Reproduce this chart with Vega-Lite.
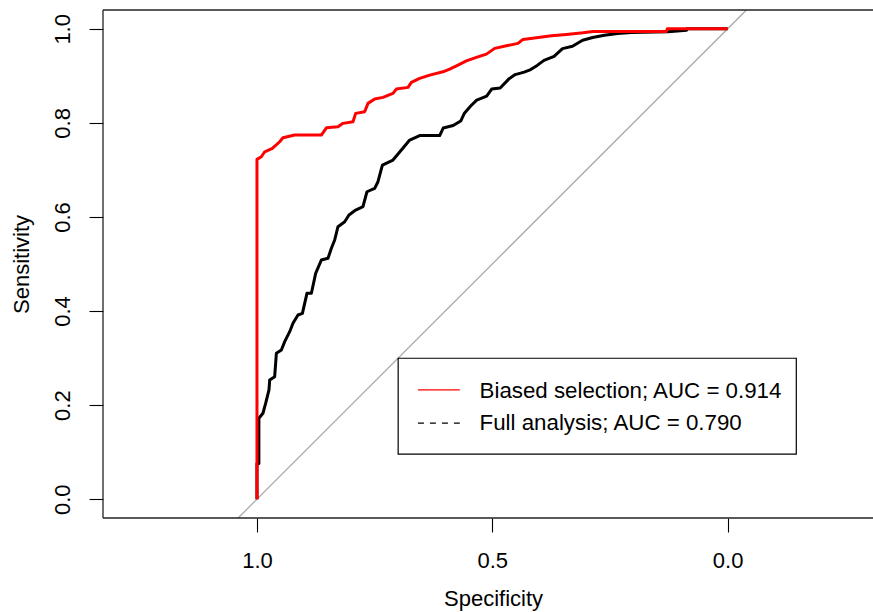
{
  "$schema": "https://vega.github.io/schema/vega-lite/v6.json",
  "width": 770,
  "height": 508,
  "autosize": {"type": "none"},
  "padding": {"left": 103, "top": 10, "right": 0, "bottom": 94},
  "background": "white",
  "data": {"values": [{}]},
  "config": {
    "view": {"stroke": null},
    "font": "Liberation Sans",
    "axis": {
      "domain": false,
      "grid": false,
      "tickSize": 14,
      "tickColor": "black",
      "tickWidth": 1.1,
      "labelFont": "Liberation Sans",
      "labelFontSize": 22,
      "labelColor": "black",
      "titleFont": "Liberation Sans",
      "titleFontSize": 22,
      "titleFontWeight": "normal",
      "titleColor": "black",
      "format": ".1f"
    }
  },
  "datasets": {
    "roc": [
      {"series": "full", "i": 0, "spec": 1.0, "sens": 0.0},
      {"series": "full", "i": 1, "spec": 1.0, "sens": 0.076},
      {"series": "full", "i": 2, "spec": 0.996, "sens": 0.076},
      {"series": "full", "i": 3, "spec": 0.996, "sens": 0.172},
      {"series": "full", "i": 4, "spec": 0.9873, "sens": 0.1827},
      {"series": "full", "i": 5, "spec": 0.9815, "sens": 0.204},
      {"series": "full", "i": 6, "spec": 0.9745, "sens": 0.2323},
      {"series": "full", "i": 7, "spec": 0.973, "sens": 0.2535},
      {"series": "full", "i": 8, "spec": 0.9624, "sens": 0.2605},
      {"series": "full", "i": 9, "spec": 0.9588, "sens": 0.3102},
      {"series": "full", "i": 10, "spec": 0.9482, "sens": 0.3173},
      {"series": "full", "i": 11, "spec": 0.9411, "sens": 0.3349},
      {"series": "full", "i": 12, "spec": 0.9305, "sens": 0.3561},
      {"series": "full", "i": 13, "spec": 0.9235, "sens": 0.374},
      {"series": "full", "i": 14, "spec": 0.9129, "sens": 0.3916},
      {"series": "full", "i": 15, "spec": 0.9035, "sens": 0.3952},
      {"series": "full", "i": 16, "spec": 0.8938, "sens": 0.4377},
      {"series": "full", "i": 17, "spec": 0.8844, "sens": 0.4377},
      {"series": "full", "i": 18, "spec": 0.8753, "sens": 0.4802},
      {"series": "full", "i": 19, "spec": 0.8632, "sens": 0.5085},
      {"series": "full", "i": 20, "spec": 0.8491, "sens": 0.5121},
      {"series": "full", "i": 21, "spec": 0.8419, "sens": 0.5334},
      {"series": "full", "i": 22, "spec": 0.8349, "sens": 0.551},
      {"series": "full", "i": 23, "spec": 0.8279, "sens": 0.5793},
      {"series": "full", "i": 24, "spec": 0.8136, "sens": 0.5899},
      {"series": "full", "i": 25, "spec": 0.8045, "sens": 0.6041},
      {"series": "full", "i": 26, "spec": 0.7903, "sens": 0.6147},
      {"series": "full", "i": 27, "spec": 0.7748, "sens": 0.6218},
      {"series": "full", "i": 28, "spec": 0.7663, "sens": 0.6536},
      {"series": "full", "i": 29, "spec": 0.7499, "sens": 0.6609},
      {"series": "full", "i": 30, "spec": 0.7429, "sens": 0.6749},
      {"series": "full", "i": 31, "spec": 0.7335, "sens": 0.7104},
      {"series": "full", "i": 32, "spec": 0.711, "sens": 0.721},
      {"series": "full", "i": 33, "spec": 0.6932, "sens": 0.7423},
      {"series": "full", "i": 34, "spec": 0.6755, "sens": 0.7635},
      {"series": "full", "i": 35, "spec": 0.6543, "sens": 0.7731},
      {"series": "full", "i": 36, "spec": 0.6118, "sens": 0.7731},
      {"series": "full", "i": 37, "spec": 0.6043, "sens": 0.789},
      {"series": "full", "i": 38, "spec": 0.5831, "sens": 0.7943},
      {"series": "full", "i": 39, "spec": 0.5671, "sens": 0.8039},
      {"series": "full", "i": 40, "spec": 0.5597, "sens": 0.8198},
      {"series": "full", "i": 41, "spec": 0.5459, "sens": 0.8358},
      {"series": "full", "i": 42, "spec": 0.5331, "sens": 0.8485},
      {"series": "full", "i": 43, "spec": 0.5119, "sens": 0.857},
      {"series": "full", "i": 44, "spec": 0.5013, "sens": 0.8719},
      {"series": "full", "i": 45, "spec": 0.4832, "sens": 0.874},
      {"series": "full", "i": 46, "spec": 0.4651, "sens": 0.8931},
      {"series": "full", "i": 47, "spec": 0.4513, "sens": 0.9027},
      {"series": "full", "i": 48, "spec": 0.4322, "sens": 0.908},
      {"series": "full", "i": 49, "spec": 0.4184, "sens": 0.9133},
      {"series": "full", "i": 50, "spec": 0.4046, "sens": 0.9222},
      {"series": "full", "i": 51, "spec": 0.3901, "sens": 0.9329},
      {"series": "full", "i": 52, "spec": 0.3687, "sens": 0.9416},
      {"series": "full", "i": 53, "spec": 0.3508, "sens": 0.9579},
      {"series": "full", "i": 54, "spec": 0.3296, "sens": 0.9628},
      {"series": "full", "i": 55, "spec": 0.3081, "sens": 0.9758},
      {"series": "full", "i": 56, "spec": 0.2867, "sens": 0.9815},
      {"series": "full", "i": 57, "spec": 0.2618, "sens": 0.9864},
      {"series": "full", "i": 58, "spec": 0.2335, "sens": 0.99},
      {"series": "full", "i": 59, "spec": 0.2048, "sens": 0.9919},
      {"series": "full", "i": 60, "spec": 0.1262, "sens": 0.994},
      {"series": "full", "i": 61, "spec": 0.0871, "sens": 0.997},
      {"series": "full", "i": 62, "spec": 0.0871, "sens": 1.0},
      {"series": "full", "i": 63, "spec": 0.0, "sens": 1.0},
      {"series": "biased", "i": 0, "spec": 1.0, "sens": 0.0},
      {"series": "biased", "i": 1, "spec": 1.0, "sens": 0.7225},
      {"series": "biased", "i": 2, "spec": 0.9907, "sens": 0.728},
      {"series": "biased", "i": 3, "spec": 0.9836, "sens": 0.7386},
      {"series": "biased", "i": 4, "spec": 0.9673, "sens": 0.7459},
      {"series": "biased", "i": 5, "spec": 0.9518, "sens": 0.7599},
      {"series": "biased", "i": 6, "spec": 0.9448, "sens": 0.7684},
      {"series": "biased", "i": 7, "spec": 0.9199, "sens": 0.7741},
      {"series": "biased", "i": 8, "spec": 0.8632, "sens": 0.7741},
      {"series": "biased", "i": 9, "spec": 0.8525, "sens": 0.7896},
      {"series": "biased", "i": 10, "spec": 0.8279, "sens": 0.7918},
      {"series": "biased", "i": 11, "spec": 0.8173, "sens": 0.799},
      {"series": "biased", "i": 12, "spec": 0.796, "sens": 0.8024},
      {"series": "biased", "i": 13, "spec": 0.7903, "sens": 0.8202},
      {"series": "biased", "i": 14, "spec": 0.7712, "sens": 0.8236},
      {"series": "biased", "i": 15, "spec": 0.7641, "sens": 0.8415},
      {"series": "biased", "i": 16, "spec": 0.7499, "sens": 0.8506},
      {"series": "biased", "i": 17, "spec": 0.7323, "sens": 0.8542},
      {"series": "biased", "i": 18, "spec": 0.711, "sens": 0.8627},
      {"series": "biased", "i": 19, "spec": 0.7038, "sens": 0.8719},
      {"series": "biased", "i": 20, "spec": 0.6791, "sens": 0.8755},
      {"series": "biased", "i": 21, "spec": 0.6719, "sens": 0.8861},
      {"series": "biased", "i": 22, "spec": 0.6543, "sens": 0.8946},
      {"series": "biased", "i": 23, "spec": 0.633, "sens": 0.9016},
      {"series": "biased", "i": 24, "spec": 0.6048, "sens": 0.9086},
      {"series": "biased", "i": 25, "spec": 0.5905, "sens": 0.9144},
      {"series": "biased", "i": 26, "spec": 0.5729, "sens": 0.9229},
      {"series": "biased", "i": 27, "spec": 0.555, "sens": 0.932},
      {"series": "biased", "i": 28, "spec": 0.5338, "sens": 0.9392},
      {"series": "biased", "i": 29, "spec": 0.5125, "sens": 0.9462},
      {"series": "biased", "i": 30, "spec": 0.4949, "sens": 0.9584},
      {"series": "biased", "i": 31, "spec": 0.47, "sens": 0.9639},
      {"series": "biased", "i": 32, "spec": 0.4454, "sens": 0.969},
      {"series": "biased", "i": 33, "spec": 0.4348, "sens": 0.9775},
      {"series": "biased", "i": 34, "spec": 0.4063, "sens": 0.9809},
      {"series": "biased", "i": 35, "spec": 0.3744, "sens": 0.9851},
      {"series": "biased", "i": 36, "spec": 0.3425, "sens": 0.9881},
      {"series": "biased", "i": 37, "spec": 0.3073, "sens": 0.9915},
      {"series": "biased", "i": 38, "spec": 0.286, "sens": 0.9945},
      {"series": "biased", "i": 39, "spec": 0.13, "sens": 0.9945},
      {"series": "biased", "i": 40, "spec": 0.128, "sens": 1.0},
      {"series": "biased", "i": 41, "spec": 0.0, "sens": 1.0}
    ]
  },
  "layer": [
    {
      "mark": {"type": "rule", "color": "#a9a9a9", "strokeWidth": 1.3},
      "encoding": {
        "x": {"datum": 1.04, "type": "quantitative",
              "scale": {"domain": [1.3272, -0.309], "nice": false, "zero": false},
              "axis": {"values": [1, 0.5, 0], "title": "Specificity", "labelPadding": 18, "labelBaseline": "top",
                       "titleX": 390, "titleY": 87, "titleBaseline": "alphabetic", "titleAlign": "center", "titleAnchor": null}},
        "x2": {"datum": -0.04},
        "y": {"datum": -0.04, "type": "quantitative",
              "scale": {"domain": [-0.04, 1.04], "nice": false, "zero": false},
              "axis": {"values": [0, 0.2, 0.4, 0.6, 0.8, 1.0], "title": "Sensitivity", "labelAngle": 270, "labelAlign": "center",
                       "labelBaseline": "alphabetic", "labelPadding": 20,
                       "titleAngle": 270, "titleX": -74.5, "titleY": 254, "titleBaseline": "alphabetic", "titleAlign": "center", "titleAnchor": null}},
        "y2": {"datum": 1.04}
      }
    },
    {
      "data": {"name": "roc"},
      "transform": [{"filter": "datum.series === 'full'"}],
      "mark": {"type": "line", "color": "black", "strokeWidth": 3, "strokeJoin": "round"},
      "encoding": {
        "x": {"field": "spec", "type": "quantitative"},
        "y": {"field": "sens", "type": "quantitative"},
        "order": {"field": "i", "type": "quantitative"}
      }
    },
    {
      "data": {"name": "roc"},
      "transform": [{"filter": "datum.series === 'biased'"}],
      "mark": {"type": "line", "color": "#ff0000", "strokeWidth": 3, "strokeJoin": "round"},
      "encoding": {
        "x": {"field": "spec", "type": "quantitative"},
        "y": {"field": "sens", "type": "quantitative"},
        "order": {"field": "i", "type": "quantitative"}
      }
    },
    {
      "mark": {"type": "rect", "fill": "white", "stroke": "black", "strokeWidth": 1.2},
      "encoding": {
        "x": {"datum": 0.7, "type": "quantitative"},
        "x2": {"datum": -0.146},
        "y": {"datum": 0.0956, "type": "quantitative"},
        "y2": {"datum": 0.2996}
      }
    },
    {
      "mark": {"type": "rule", "color": "#ff0000", "strokeWidth": 1.3},
      "encoding": {
        "x": {"datum": 0.658, "type": "quantitative"},
        "x2": {"datum": 0.569},
        "y": {"datum": 0.2323, "type": "quantitative"}
      }
    },
    {
      "mark": {"type": "rule", "color": "black", "strokeWidth": 1.3, "strokeDash": [6, 6]},
      "encoding": {
        "x": {"datum": 0.658, "type": "quantitative"},
        "x2": {"datum": 0.569},
        "y": {"datum": 0.1615, "type": "quantitative"}
      }
    },
    {
      "mark": {"type": "text", "align": "left", "baseline": "alphabetic", "fontSize": 22.3, "font": "Liberation Sans", "color": "black"},
      "encoding": {
        "x": {"datum": 0.527, "type": "quantitative"},
        "y": {"datum": 0.2153, "type": "quantitative"},
        "text": {"value": "Biased selection; AUC = 0.914"}
      }
    },
    {
      "mark": {"type": "text", "align": "left", "baseline": "alphabetic", "fontSize": 22.3, "font": "Liberation Sans", "color": "black"},
      "encoding": {
        "x": {"datum": 0.527, "type": "quantitative"},
        "y": {"datum": 0.1462, "type": "quantitative"},
        "text": {"value": "Full analysis; AUC = 0.790"}
      }
    },
    {
      "mark": {"type": "rule", "color": "#222222", "strokeWidth": 1.3},
      "encoding": {"y": {"datum": 1.04, "type": "quantitative"}}
    },
    {
      "mark": {"type": "rule", "color": "#222222", "strokeWidth": 1.3},
      "encoding": {"y": {"datum": -0.04, "type": "quantitative"}}
    },
    {
      "mark": {"type": "rule", "color": "#222222", "strokeWidth": 1.3},
      "encoding": {"x": {"datum": 1.3272, "type": "quantitative"}}
    }
  ]
}
